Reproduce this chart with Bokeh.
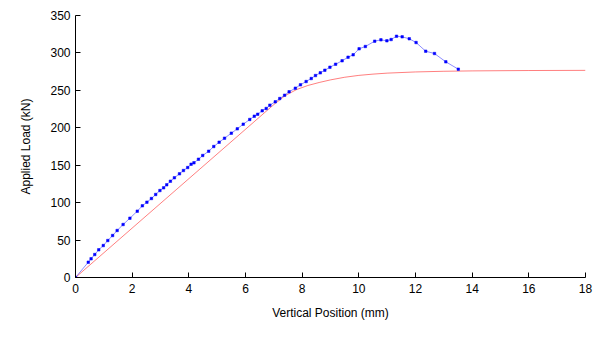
from bokeh.plotting import figure
from bokeh.models import Range1d, FixedTicker
from bokeh.embed import file_html
from bokeh.resources import INLINE

# Measured data (blue, with markers)
meas_x = [0, 0.45, 0.55, 0.68, 0.82, 0.98, 1.14, 1.31, 1.47, 1.68, 1.92, 2.18, 2.36, 2.52,
          2.68, 2.83, 2.98, 3.11, 3.22, 3.35, 3.49, 3.67, 3.81, 3.96, 4.08, 4.18, 4.34, 4.49,
          4.70, 4.88, 5.07, 5.26, 5.50, 5.71, 5.92, 6.15, 6.31, 6.43, 6.59, 6.73, 6.86, 7.05,
          7.21, 7.38, 7.54, 7.76, 7.94, 8.14, 8.32, 8.47, 8.64, 8.80, 8.98, 9.18, 9.41, 9.62,
          9.80, 10.01, 10.23, 10.56, 10.78, 10.99, 11.14, 11.33, 11.53, 11.78, 12.02, 12.36,
          12.67, 13.07, 13.51]
meas_y = [0, 20.4, 25.0, 30.7, 37.0, 42.7, 49.4, 56.1, 62.8, 70.8, 79.2, 88.6, 95.8, 100.6,
          105.5, 110.9, 116.2, 119.8, 123.8, 128.6, 133.2, 138.5, 142.9, 146.9, 151.3, 153.2,
          158.0, 163.0, 168.7, 175.0, 180.7, 186.1, 192.8, 198.6, 204.8, 211.1, 215.5, 218.1,
          222.7, 225.8, 230.2, 234.7, 239.1, 243.5, 248.1, 252.9, 257.4, 261.8, 265.8, 269.8,
          273.4, 276.9, 280.9, 284.9, 289.5, 294.3, 297.5, 305.5, 308.6, 315.7, 317.5, 316.2,
          317.9, 322.3, 321.5, 318.9, 313.9, 302.3, 299.2, 288.1, 278.3]

# Model curve (red)
model_x = [0, 7.0, 7.4, 7.8, 8.2, 8.6, 9.0, 9.5, 10.0, 10.5, 11.0, 12.0, 13.0, 14.0, 16.0, 18.0]
model_y = [0, 231, 243, 251, 256.5, 260.5, 264, 267.5, 270, 271.7, 273, 274.6, 275.5, 276, 276.5, 276.7]

x_ticks = [0, 2, 4, 6, 8, 10, 12, 14, 16, 18]
y_ticks = [0, 50, 100, 150, 200, 250, 300, 350]

p = figure(width=605, height=341, output_backend="svg", toolbar_location=None,
           x_range=Range1d(0, 18), y_range=Range1d(0, 350),
           min_border_left=75, min_border_right=20, min_border_top=15, min_border_bottom=64)
p.outline_line_color = None
p.xgrid.visible = False
p.ygrid.visible = False
p.background_fill_color = "white"
p.border_fill_color = "white"

p.line(model_x, model_y, line_color="red", line_alpha=0.5, line_width=1)
p.line(meas_x, meas_y, line_color="blue", line_alpha=0.45, line_width=1)
p.scatter(meas_x, meas_y, marker="square", size=2.5, line_width=0.5,
          fill_color="blue", line_color="blue")

FONT = "Liberation Sans"
for ax, ticks in ((p.xaxis, x_ticks), (p.yaxis, y_ticks)):
    ax.ticker = FixedTicker(ticks=ticks)
    ax.major_tick_in = 5
    ax.major_tick_out = 0
    ax.minor_tick_in = 0
    ax.minor_tick_out = 0
    ax.axis_line_color = "black"
    ax.major_tick_line_color = "black"
    ax.major_label_text_font = FONT
    ax.major_label_text_font_size = "12px"
    ax.major_label_text_color = "black"
    ax.axis_label_text_font = FONT
    ax.axis_label_text_font_size = "12px"
    ax.axis_label_text_font_style = "normal"
    ax.axis_label_text_color = "black"

p.xaxis.axis_label = "Vertical Position (mm)"
p.yaxis.axis_label = "Applied Load (kN)"
p.xaxis.major_label_standoff = 6
p.yaxis.major_label_standoff = 5
p.xaxis.axis_label_standoff = 10
p.yaxis.axis_label_standoff = 14

open("out.html", "w").write(file_html(p, INLINE))
